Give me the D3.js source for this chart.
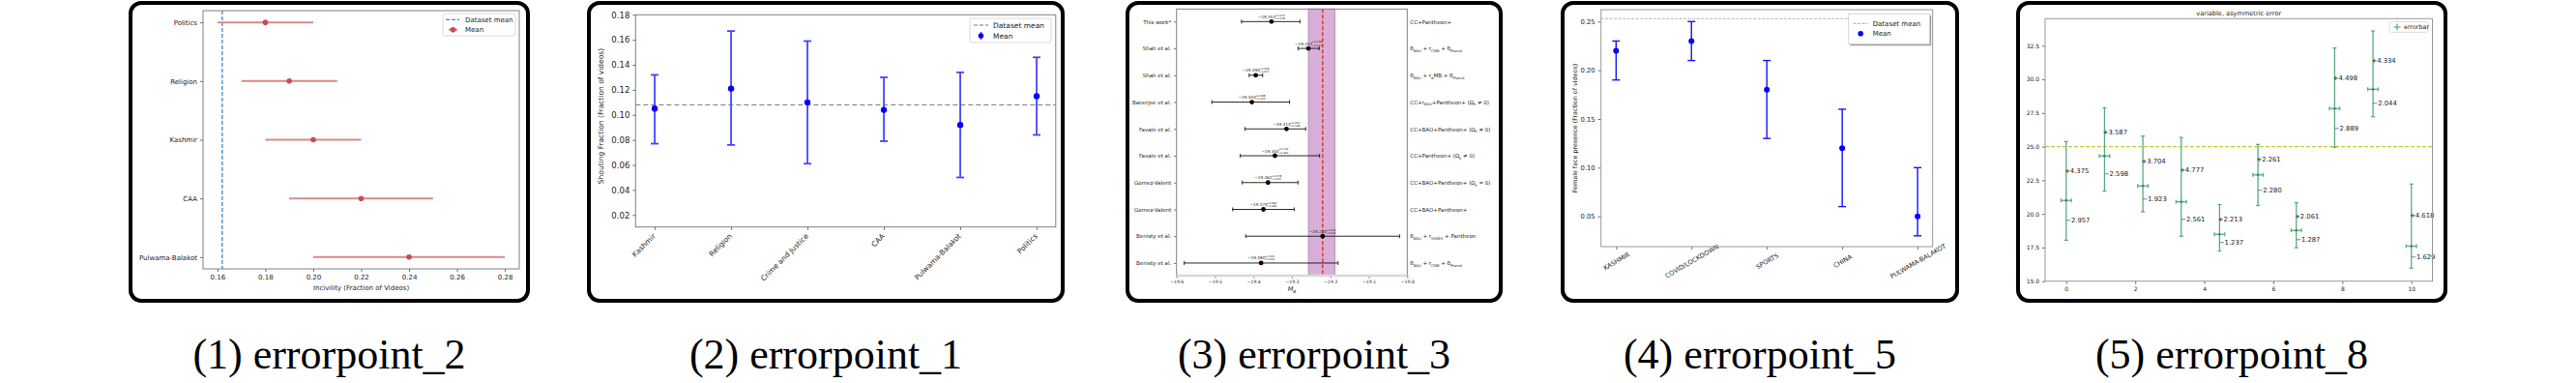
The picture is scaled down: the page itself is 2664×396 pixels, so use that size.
<!DOCTYPE html>
<html>
<head>
<meta charset="utf-8">
<script src="https://cdn.jsdelivr.net/npm/d3@7"></script>
<style>
body { margin: 0; background: #fff; }
svg { display: block; }
</style>
</head>
<body>
<svg></svg>
<script>
// ---- data ----
// (1) incivility
const p1Cats = ['Politics', 'Religion', 'Kashmir', 'CAA', 'Pulwama-Balakot'];
const p1Mean = [0.18, 0.19, 0.20, 0.22, 0.24];
const p1Lo = [0.16, 0.17, 0.18, 0.19, 0.20];
const p1Hi = [0.20, 0.21, 0.22, 0.25, 0.28];
const p1DatasetMean = 0.162;
const p1XTicks = [0.16, 0.18, 0.20, 0.22, 0.24, 0.26, 0.28];

// (2) shouting
const p2Cats = ['Kashmir', 'Religion', 'Crime and Justice', 'CAA', 'Pulwama-Balakot', 'Politics'];
const p2Mean = [0.105, 0.121, 0.110, 0.104, 0.092, 0.115];
const p2Lo = [0.077, 0.076, 0.061, 0.079, 0.050, 0.084];
const p2Hi = [0.132, 0.167, 0.159, 0.130, 0.134, 0.146];
const p2DatasetMean = 0.108;
const p2YTicks = [0.02, 0.04, 0.06, 0.08, 0.10, 0.12, 0.14, 0.16, 0.18];

// (3) M_B comparison
const p3Names = ['This work*', 'Shah et al.', 'Shah et al.', 'Banerjee et al.', 'Favale et al.',
  'Favale et al.', 'Gomez-Valent', 'Gomez-Valent', 'Benisty et al.', 'Benisty et al.'];
const p3Val = [-19.353, -19.257, -19.394, -19.404, -19.314, -19.344, -19.362, -19.374, -19.220, -19.380];
const p3Up = [0.074, 0.028, 0.018, 0.098, 0.050, 0.116, 0.078, 0.080, 0.200, 0.200];
const p3Dn = [0.078, 0.027, 0.017, 0.104, 0.108, 0.090, 0.067, 0.080, 0.200, 0.200];
const p3Data = ['CC+Pantheon+', 'θ_{BAO} + r_{CMB} + θ_{Planck}', 'θ_{BAO} + r_{d}MB + θ_{Planck}',
  'CC+r_{BAO}+Pantheon+ (Ω_{k} ≠ 0)', 'CC+BAO+Pantheon+ (Ω_{k} ≠ 0)', 'CC+Pantheon+ (Ω_{k} ≠ 0)',
  'CC+BAO+Pantheon+ (Ω_{k} = 0)', 'CC+BAO+Pantheon+', 'θ_{BAO} + r_{SH0ES} + Pantheon',
  'θ_{BAO} + r_{CMB} + θ_{Planck}'];
const p3Band = [-19.257, -19.188];
const p3Ref = -19.22;
const p3XTicks = [-19.6, -19.5, -19.4, -19.3, -19.2, -19.1, -19.0];

// (4) female face presence
const p4Cats = ['KASHMIR', 'COVID/LOCKDOWN', 'SPORTS', 'CHINA', 'PULWAMA-BALAKOT'];
const p4Mean = [0.22, 0.23, 0.18, 0.12, 0.05];
const p4Lo = [0.19, 0.21, 0.13, 0.06, 0.03];
const p4Hi = [0.23, 0.25, 0.21, 0.16, 0.10];
const p4DatasetMean = 0.253;
const p4YTicks = [0.05, 0.10, 0.15, 0.20, 0.25];

// (5) variable, asymmetric error
const p5X = [0, 1.111, 2.222, 3.333, 4.444, 5.556, 6.667, 7.778, 8.889, 10];
const p5Y = [21.0, 24.3, 22.08, 20.9, 18.48, 22.9, 18.77, 27.83, 29.26, 17.6];
const p5Up = [4.375, 3.587, 3.704, 4.777, 2.213, 2.261, 2.061, 4.498, 4.334, 4.618];
const p5Dn = [2.957, 2.598, 1.923, 2.561, 1.237, 2.280, 1.287, 2.889, 2.044, 1.629];
const p5XErr = [0.15, 0.15, 0.15, 0.15, 0.15, 0.15, 0.15, 0.15, 0.15, 0.15];
const p5Ref = 25;
const p5YTicks = [15.0, 17.5, 20.0, 22.5, 25.0, 27.5, 30.0, 32.5];
const p5XTicks = [0, 2, 4, 6, 8, 10];

const captions = ['(1) errorpoint_2', '(2) errorpoint_1', '(3) errorpoint_3', '(4) errorpoint_5', '(5) errorpoint_8'];

// ---- layout ----
const size = {w: 2664, h: 396};
const FONT = 'DejaVu Sans';
const svg = d3.select('svg').attr('width', size.w).attr('height', size.h);
svg.append('rect').attr('width', size.w).attr('height', size.h).attr('fill', '#fff');

const frames = [
    {x: 135, w: 411},
    {x: 609, w: 490},
    {x: 1166, w: 386},
    {x: 1616, w: 408},
    {x: 2087, w: 442}
];

function styleAxis(g, fs) {
    g.select('path.domain').remove();
    g.selectAll('line').attr('stroke', '#444').attr('stroke-width', 0.8);
    g.selectAll('text').attr('font-size', fs).attr('font-family', FONT).attr('fill', '#222');
}

function spineBox(g, x0, y0, x1, y1, color) {
    g.append('rect').attr('x', x0).attr('y', y0)
        .attr('width', x1 - x0).attr('height', y1 - y0)
        .attr('fill', 'none').attr('stroke', color || '#808080').attr('stroke-width', 1);
}

// writes "a_{sub}b" style strings as tspans with subscripts
function mathText(text, str, fs) {
    text.text(null);
    const parts = str.split(/(_\{[^}]*\})/).filter(s => s.length);
    let sub = false;
    parts.forEach(p => {
        if (p.startsWith('_{')) {
            text.append('tspan').attr('font-size', fs * 0.68).attr('dy', fs * 0.28).text(p.slice(2, -1));
            sub = true;
        } else {
            const t = text.append('tspan').text(p);
            if (sub) { t.attr('dy', -fs * 0.28); sub = false; }
        }
    });
}

// ---------- panel 1 ----------
{
    const g = svg.append('g');
    const b = {l: 210, r: 537, t: 11, b: 278};
    const x = d3.scaleLinear().domain([0.154, 0.286]).range([b.l, b.r]);
    const y = d3.scaleLinear().domain([-0.2, 4.2]).range([b.t, b.b]);

    g.append('g').attr('transform', `translate(0,${b.b})`)
        .call(d3.axisBottom(x).tickValues(p1XTicks).tickFormat(d3.format('.2f')).tickSize(3).tickPadding(3))
        .call(styleAxis, 7);
    g.append('g').attr('transform', `translate(${b.l},0)`)
        .call(d3.axisLeft(y).tickValues(d3.range(p1Cats.length)).tickFormat(i => p1Cats[i]).tickSize(3).tickPadding(3))
        .call(styleAxis, 7);

    g.append('line')
        .attr('x1', x(p1DatasetMean)).attr('x2', x(p1DatasetMean))
        .attr('y1', b.t).attr('y2', b.b)
        .attr('stroke', '#2a8ad6').attr('stroke-width', 1.3).attr('stroke-dasharray', '4,2');

    g.selectAll('line.err').data(p1Cats).join('line').attr('class', 'err')
        .attr('x1', (d, i) => x(p1Lo[i])).attr('x2', (d, i) => x(p1Hi[i]))
        .attr('y1', (d, i) => y(i)).attr('y2', (d, i) => y(i))
        .attr('stroke', '#d88a8b').attr('stroke-width', 2);
    g.selectAll('circle').data(p1Mean).join('circle')
        .attr('cx', d => x(d)).attr('cy', (d, i) => y(i)).attr('r', 2.8)
        .attr('fill', '#c44e52');

    spineBox(g, b.l, b.t, b.r, b.b);

    g.append('text').attr('x', (b.l + b.r) / 2).attr('y', 300)
        .attr('text-anchor', 'middle').attr('font-family', FONT).attr('font-size', 7).attr('fill', '#222')
        .text('Incivility (Fraction of Videos)');

    // legend
    const lg = g.append('g');
    lg.append('rect').attr('x', 458).attr('y', 14).attr('width', 75).attr('height', 23).attr('rx', 2)
        .attr('fill', '#fff').attr('stroke', '#d0d0d0').attr('stroke-width', 0.8);
    lg.append('line').attr('x1', 461).attr('x2', 475).attr('y1', 20.3).attr('y2', 20.3)
        .attr('stroke', '#2a8ad6').attr('stroke-width', 1.3).attr('stroke-dasharray', '4,2');
    lg.append('line').attr('x1', 464).attr('x2', 473).attr('y1', 30.7).attr('y2', 30.7)
        .attr('stroke', '#d88a8b').attr('stroke-width', 2);
    lg.append('circle').attr('cx', 468.5).attr('cy', 30.7).attr('r', 2.8).attr('fill', '#c44e52');
    lg.selectAll('text').data(['Dataset mean', 'Mean']).join('text')
        .attr('x', 481).attr('y', (d, i) => 20.3 + i * 10.4).attr('dy', '0.35em')
        .attr('font-family', FONT).attr('font-size', 7).attr('fill', '#222').text(d => d);
}

// ---------- panel 2 ----------
{
    const g = svg.append('g');
    const b = {l: 657.3, r: 1091.8, t: 15.3, b: 234.7};
    const x = d3.scaleLinear().domain([-0.25, 5.25]).range([b.l, b.r]);
    const y = d3.scaleLinear().domain([0.0104, 0.18]).range([b.b, b.t]);

    g.append('g').attr('transform', `translate(${b.l},0)`)
        .call(d3.axisLeft(y).tickValues(p2YTicks).tickFormat(d3.format('.2f')).tickSize(3).tickPadding(3))
        .call(styleAxis, 8.5);
    const xa = g.append('g').attr('transform', `translate(0,${b.b})`)
        .call(d3.axisBottom(x).tickValues(d3.range(p2Cats.length)).tickFormat(i => p2Cats[i]).tickSize(3))
        .call(styleAxis, 7.5);
    xa.selectAll('.tick text')
        .attr('text-anchor', 'end').attr('y', 0).attr('dy', '0.35em')
        .attr('transform', 'translate(-1,8) rotate(-45)');

    g.append('line').attr('x1', b.l).attr('x2', b.r)
        .attr('y1', y(p2DatasetMean)).attr('y2', y(p2DatasetMean))
        .attr('stroke', '#777').attr('stroke-width', 1).attr('stroke-dasharray', '5,3');

    const eg = g.selectAll('g.eb').data(p2Cats).join('g').attr('class', 'eb');
    eg.append('line').attr('x1', (d, i) => x(i)).attr('x2', (d, i) => x(i))
        .attr('y1', (d, i) => y(p2Lo[i])).attr('y2', (d, i) => y(p2Hi[i]));
    eg.append('line').attr('x1', (d, i) => x(i) - 4).attr('x2', (d, i) => x(i) + 4)
        .attr('y1', (d, i) => y(p2Lo[i])).attr('y2', (d, i) => y(p2Lo[i]));
    eg.append('line').attr('x1', (d, i) => x(i) - 4).attr('x2', (d, i) => x(i) + 4)
        .attr('y1', (d, i) => y(p2Hi[i])).attr('y2', (d, i) => y(p2Hi[i]));
    eg.selectAll('line').attr('stroke', '#4646ff').attr('stroke-width', 1.8);
    eg.append('circle').attr('cx', (d, i) => x(i)).attr('cy', (d, i) => y(p2Mean[i])).attr('r', 3.2)
        .attr('fill', '#0000ff');

    spineBox(g, b.l, b.t, b.r, b.b);

    g.append('text').attr('transform', `translate(624,${(b.t + b.b) / 2 - 5}) rotate(-90)`)
        .attr('text-anchor', 'middle').attr('font-family', FONT).attr('font-size', 7.5).attr('fill', '#222')
        .text('Shouting Fraction (Fraction of videos)');

    // legend
    const lg = g.append('g');
    const lx = 1003, ly = 19;
    lg.append('rect').attr('x', lx).attr('y', ly).attr('width', 84).attr('height', 25).attr('rx', 2)
        .attr('fill', '#fff').attr('stroke', '#d0d0d0').attr('stroke-width', 0.8);
    lg.append('line').attr('x1', lx + 4).attr('x2', lx + 19).attr('y1', ly + 7).attr('y2', ly + 7)
        .attr('stroke', '#777').attr('stroke-width', 1).attr('stroke-dasharray', '4,2');
    lg.append('line').attr('x1', lx + 11.5).attr('x2', lx + 11.5).attr('y1', ly + 14).attr('y2', ly + 22)
        .attr('stroke', '#4646ff').attr('stroke-width', 1.5);
    lg.append('circle').attr('cx', lx + 11.5).attr('cy', ly + 18).attr('r', 2.8).attr('fill', '#0000ff');
    lg.selectAll('text').data(['Dataset mean', 'Mean']).join('text')
        .attr('x', lx + 24).attr('y', (d, i) => ly + 7 + i * 11).attr('dy', '0.35em')
        .attr('font-family', FONT).attr('font-size', 7.5).attr('fill', '#222').text(d => d);
}

// ---------- panel 3 ----------
{
    const g = svg.append('g');
    const b = {l: 1216.7, r: 1455.3, t: 9.3, b: 285};
    const x = d3.scaleLinear().domain([-19.6, -19.0]).range([b.l, b.r]);
    const y = d3.scaleLinear().domain([-0.47, 9.47]).range([b.t, b.b]);

    g.append('rect').attr('x', x(p3Band[0])).attr('y', b.t)
        .attr('width', x(p3Band[1]) - x(p3Band[0])).attr('height', b.b - b.t)
        .attr('fill', '#d7afd8').attr('stroke', '#b77fb8').attr('stroke-width', 0.8);
    g.append('line').attr('x1', x(p3Ref)).attr('x2', x(p3Ref)).attr('y1', b.t).attr('y2', b.b)
        .attr('stroke', '#e82a2a').attr('stroke-width', 1.4).attr('stroke-dasharray', '4,2');

    g.append('g').attr('transform', `translate(0,${b.b})`)
        .call(d3.axisBottom(x).tickValues(p3XTicks).tickFormat(d3.format('.1f')).tickSize(2.5).tickPadding(2))
        .call(styleAxis, 4.6);
    g.append('g').attr('transform', `translate(${b.l},0)`)
        .call(d3.axisLeft(y).tickValues(d3.range(p3Names.length)).tickFormat(i => p3Names[i]).tickSize(2.5).tickPadding(3))
        .call(styleAxis, 5.5);
    const ra = g.append('g').attr('transform', `translate(${b.r},0)`)
        .call(d3.axisRight(y).tickValues(d3.range(p3Data.length)).tickFormat(i => p3Data[i]).tickSize(0).tickPadding(3))
        .call(styleAxis, 5.5);
    ra.selectAll('.tick text').each(function (i) { mathText(d3.select(this), p3Data[i], 5.5); });

    const eg = g.selectAll('g.eb').data(p3Val).join('g').attr('class', 'eb');
    eg.append('line').attr('x1', (d, i) => x(d - p3Dn[i])).attr('x2', (d, i) => x(d + p3Up[i]))
        .attr('y1', (d, i) => y(i)).attr('y2', (d, i) => y(i));
    eg.append('line').attr('x1', (d, i) => x(d - p3Dn[i])).attr('x2', (d, i) => x(d - p3Dn[i]))
        .attr('y1', (d, i) => y(i) - 2).attr('y2', (d, i) => y(i) + 2);
    eg.append('line').attr('x1', (d, i) => x(d + p3Up[i])).attr('x2', (d, i) => x(d + p3Up[i]))
        .attr('y1', (d, i) => y(i) - 2).attr('y2', (d, i) => y(i) + 2);
    eg.selectAll('line').attr('stroke', '#111').attr('stroke-width', 0.9);
    eg.append('circle').attr('cx', d => x(d)).attr('cy', (d, i) => y(i)).attr('r', 2.4).attr('fill', '#000');

    // value labels with asymmetric errors
    const lab = eg.append('g').attr('transform', (d, i) => `translate(${x(d) - 14},${y(i) - 3.5})`);
    lab.append('text').attr('font-family', FONT).attr('font-size', 4.2).attr('fill', '#222')
        .text(d => d3.format('.3f')(d));
    lab.append('text').attr('x', 17.5).attr('y', -2.2).attr('font-family', FONT).attr('font-size', 2.8).attr('fill', '#222')
        .text((d, i) => '+' + d3.format('.3f')(p3Up[i]));
    lab.append('text').attr('x', 17.5).attr('y', 1).attr('font-family', FONT).attr('font-size', 2.8).attr('fill', '#222')
        .text((d, i) => '−' + d3.format('.3f')(p3Dn[i]));

    spineBox(g, b.l, b.t, b.r, b.b);
    g.append('line').attr('x1', b.l).attr('x2', b.r).attr('y1', b.b).attr('y2', b.b)
        .attr('stroke', '#d8d8d8').attr('stroke-width', 2.5);

    g.append('text').attr('x', (b.l + b.r) / 2).attr('y', 301)
        .attr('text-anchor', 'middle').attr('font-family', FONT).attr('font-size', 6.5)
        .attr('font-style', 'italic').attr('fill', '#222')
        .text('M').append('tspan').attr('font-size', 4.5).attr('dy', 1.5).text('B');
}

// ---------- panel 4 ----------
{
    const g = svg.append('g');
    const b = {l: 1655.7, r: 1998.7, t: 10, b: 255};
    const x = d3.scaleLinear().domain([-0.2, 4.2]).range([b.l, b.r]);
    const y = d3.scaleLinear().domain([0.0189, 0.2622]).range([b.b, b.t]);

    g.append('g').attr('transform', `translate(${b.l},0)`)
        .call(d3.axisLeft(y).tickValues(p4YTicks).tickFormat(d3.format('.2f')).tickSize(3).tickPadding(3))
        .call(styleAxis, 6.8);
    const xa = g.append('g').attr('transform', `translate(0,${b.b})`)
        .call(d3.axisBottom(x).tickValues(d3.range(p4Cats.length)).tickFormat(i => p4Cats[i]).tickSize(3))
        .call(styleAxis, 6.6);
    xa.selectAll('.tick text')
        .attr('text-anchor', 'middle').attr('y', 0).attr('dy', '0.35em')
        .attr('transform', 'translate(0,15) rotate(-30)');

    g.append('line').attr('x1', b.l).attr('x2', b.r)
        .attr('y1', y(p4DatasetMean)).attr('y2', y(p4DatasetMean))
        .attr('stroke', '#aaa').attr('stroke-width', 0.9).attr('stroke-dasharray', '3,1.5');

    const eg = g.selectAll('g.eb').data(p4Cats).join('g').attr('class', 'eb');
    eg.append('line').attr('x1', (d, i) => x(i)).attr('x2', (d, i) => x(i))
        .attr('y1', (d, i) => y(p4Lo[i])).attr('y2', (d, i) => y(p4Hi[i]));
    eg.append('line').attr('x1', (d, i) => x(i) - 4).attr('x2', (d, i) => x(i) + 4)
        .attr('y1', (d, i) => y(p4Lo[i])).attr('y2', (d, i) => y(p4Lo[i]));
    eg.append('line').attr('x1', (d, i) => x(i) - 4).attr('x2', (d, i) => x(i) + 4)
        .attr('y1', (d, i) => y(p4Hi[i])).attr('y2', (d, i) => y(p4Hi[i]));
    eg.selectAll('line').attr('stroke', '#1515ff').attr('stroke-width', 1.4);
    eg.append('circle').attr('cx', (d, i) => x(i)).attr('cy', (d, i) => y(p4Mean[i])).attr('r', 3)
        .attr('fill', '#0000ff');

    spineBox(g, b.l, b.t, b.r, b.b, '#999');

    g.append('text').attr('transform', `translate(1631,${(b.t + b.b) / 2}) rotate(-90)`)
        .attr('text-anchor', 'middle').attr('font-family', FONT).attr('font-size', 6.4).attr('fill', '#222')
        .text('Female face presence (Fraction of videos)');

    // legend with shadow
    const lg = g.append('g');
    const lx = 1911.7, ly = 14.3;
    lg.append('rect').attr('x', lx + 1.5).attr('y', ly + 1.5).attr('width', 84).attr('height', 31.4)
        .attr('fill', '#999');
    lg.append('rect').attr('x', lx).attr('y', ly).attr('width', 84).attr('height', 31.4)
        .attr('fill', '#fff').attr('stroke', '#ccc').attr('stroke-width', 0.8);
    lg.append('line').attr('x1', lx + 5).attr('x2', lx + 20).attr('y1', ly + 10).attr('y2', ly + 10)
        .attr('stroke', '#999').attr('stroke-width', 0.9).attr('stroke-dasharray', '3,1.5');
    lg.append('circle').attr('cx', lx + 12.5).attr('cy', ly + 20.4).attr('r', 2.8).attr('fill', '#0000ff');
    lg.selectAll('text').data(['Dataset mean', 'Mean']).join('text')
        .attr('x', lx + 25).attr('y', (d, i) => ly + 10 + i * 10.4).attr('dy', '0.35em')
        .attr('font-family', FONT).attr('font-size', 7).attr('fill', '#222').text(d => d);
}

// ---------- panel 5 ----------
{
    const g = svg.append('g');
    const b = {l: 2115, r: 2515.5, t: 19.3, b: 290.7};
    const x = d3.scaleLinear().domain([-0.61, 10.61]).range([b.l, b.r]);
    const y = d3.scaleLinear().domain([15, 34.51]).range([b.b, b.t]);

    g.append('g').attr('transform', `translate(${b.l},0)`)
        .call(d3.axisLeft(y).tickValues(p5YTicks).tickFormat(d3.format('.1f')).tickSize(3).tickPadding(3))
        .call(styleAxis, 6);
    g.append('g').attr('transform', `translate(0,${b.b})`)
        .call(d3.axisBottom(x).tickValues(p5XTicks).tickFormat(d3.format('d')).tickSize(3).tickPadding(3))
        .call(styleAxis, 6);

    g.append('line').attr('x1', b.l).attr('x2', b.r).attr('y1', y(p5Ref)).attr('y2', y(p5Ref))
        .attr('stroke', '#c8c83c').attr('stroke-width', 1.2).attr('stroke-dasharray', '4,2');

    const eg = g.selectAll('g.eb').data(p5Y).join('g').attr('class', 'eb');
    eg.append('line').attr('x1', (d, i) => x(p5X[i])).attr('x2', (d, i) => x(p5X[i]))
        .attr('y1', (d, i) => y(d - p5Dn[i])).attr('y2', (d, i) => y(d + p5Up[i]));
    eg.append('line').attr('x1', (d, i) => x(p5X[i]) - 2).attr('x2', (d, i) => x(p5X[i]) + 2)
        .attr('y1', (d, i) => y(d - p5Dn[i])).attr('y2', (d, i) => y(d - p5Dn[i]));
    eg.append('line').attr('x1', (d, i) => x(p5X[i]) - 2).attr('x2', (d, i) => x(p5X[i]) + 2)
        .attr('y1', (d, i) => y(d + p5Up[i])).attr('y2', (d, i) => y(d + p5Up[i]));
    eg.append('line').attr('x1', (d, i) => x(p5X[i] - p5XErr[i])).attr('x2', (d, i) => x(p5X[i] + p5XErr[i]))
        .attr('y1', d => y(d)).attr('y2', d => y(d));
    eg.append('line').attr('x1', (d, i) => x(p5X[i] - p5XErr[i])).attr('x2', (d, i) => x(p5X[i] - p5XErr[i]))
        .attr('y1', d => y(d) - 2).attr('y2', d => y(d) + 2);
    eg.append('line').attr('x1', (d, i) => x(p5X[i] + p5XErr[i])).attr('x2', (d, i) => x(p5X[i] + p5XErr[i]))
        .attr('y1', d => y(d) - 2).attr('y2', d => y(d) + 2);
    eg.selectAll('line').attr('stroke', '#5aab84').attr('stroke-width', 1.3);
    eg.append('circle').attr('cx', (d, i) => x(p5X[i])).attr('cy', d => y(d)).attr('r', 1.3).attr('fill', '#3b8a63');

    eg.append('text').attr('x', (d, i) => x(p5X[i]) - 1.6).attr('y', (d, i) => y(d + p5Up[i] / 2))
        .attr('dy', '0.35em').attr('font-family', FONT).attr('font-size', 6.8).attr('fill', '#222')
        .text((d, i) => '+' + d3.format('.3f')(p5Up[i]));
    eg.append('text').attr('x', (d, i) => x(p5X[i]) - 0.5).attr('y', (d, i) => y(d - p5Dn[i] / 2))
        .attr('dy', '0.35em').attr('font-family', FONT).attr('font-size', 6.8).attr('fill', '#222')
        .text((d, i) => '−' + d3.format('.3f')(p5Dn[i]));

    spineBox(g, b.l, b.t, b.r, b.b, '#999');

    g.append('text').attr('x', (b.l + b.r) / 2).attr('y', 16)
        .attr('text-anchor', 'middle').attr('font-family', FONT).attr('font-size', 6.6).attr('fill', '#222')
        .text('variable, asymmetric error');

    // legend
    const lx = 2471, ly = 22.7;
    g.append('rect').attr('x', lx).attr('y', ly).attr('width', 40).attr('height', 10.6).attr('rx', 1.5)
        .attr('fill', '#fff').attr('stroke', '#d0d0d0').attr('stroke-width', 0.8);
    const sx = lx + 8, sy = ly + 5.3;
    g.append('line').attr('x1', sx).attr('x2', sx).attr('y1', sy - 3.5).attr('y2', sy + 3.5)
        .attr('stroke', '#5aab84').attr('stroke-width', 1.2);
    g.append('line').attr('x1', sx - 3.5).attr('x2', sx + 3.5).attr('y1', sy).attr('y2', sy)
        .attr('stroke', '#5aab84').attr('stroke-width', 1.2);
    g.append('text').attr('x', lx + 15).attr('y', sy).attr('dy', '0.35em')
        .attr('font-family', FONT).attr('font-size', 6.4).attr('fill', '#222').text('errorbar');
}

// ---------- frames and captions ----------
svg.selectAll('rect.frame').data(frames).join('rect').attr('class', 'frame')
    .attr('x', d => d.x).attr('y', 3).attr('width', d => d.w).attr('height', 308)
    .attr('rx', 11).attr('fill', 'none').attr('stroke', '#000').attr('stroke-width', 4);

svg.selectAll('text.caption').data(captions).join('text').attr('class', 'caption')
    .attr('x', (d, i) => frames[i].x + frames[i].w / 2).attr('y', 381)
    .attr('text-anchor', 'middle')
    .attr('font-family', 'Liberation Serif').attr('font-size', 44).attr('fill', '#000')
    .text(d => d);
</script>
</body>
</html>
